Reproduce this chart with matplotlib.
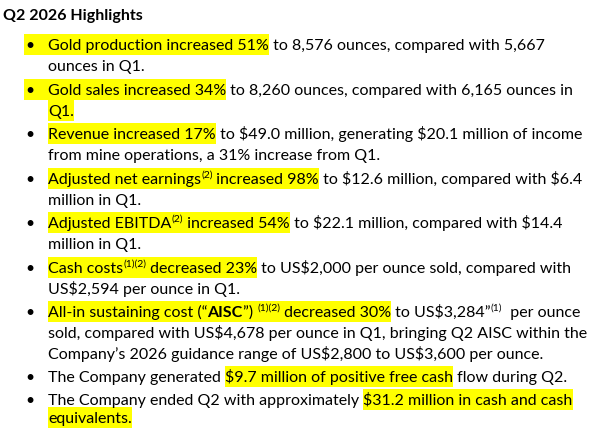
import matplotlib
matplotlib.use("Agg")
import matplotlib.pyplot as plt
from matplotlib.patches import Rectangle
plt.rcParams['text.parse_math'] = False

title = "Q2 2026 Highlights"
# each line: (baseline_y, bullet, bullet_highlight, segments)  segment=(text, highlight, style)
lines = [
    (50, True, True, [("Gold production increased 51%", 1, "n"), (" to 8,576 ounces, compared with 5,667", 0, "n")]),
    (71, False, False, [("ounces in Q1.", 0, "n")]),
    (95, True, True, [("Gold sales increased 34%", 1, "n"), (" to 8,260 ounces, compared with 6,165 ounces in", 0, "n")]),
    (116, False, False, [("Q1.", 1, "n")]),
    (139, True, False, [("Revenue increased 17%", 1, "n"), (" to $49.0 million, generating $20.1 million of income", 0, "n")]),
    (160, False, False, [("from mine operations, a 31% increase from Q1.", 0, "n")]),
    (184, True, False, [("Adjusted net earnings", 1, "n"), ("(2)", 1, "s"), (" increased 98%", 1, "n"), (" to $12.6 million, compared with $6.4", 0, "n")]),
    (205, False, False, [("million in Q1.", 0, "n")]),
    (228, True, False, [("Adjusted EBITDA", 1, "n"), ("(2)", 1, "s"), (" increased 54%", 1, "n"), (" to $22.1 million, compared with $14.4", 0, "n")]),
    (249, False, False, [("million in Q1.", 0, "n")]),
    (273, True, False, [("Cash costs", 1, "n"), ("(1)(2)", 1, "s"), (" decreased 23%", 1, "n"), (" to US$2,000 per ounce sold, compared with", 0, "n")]),
    (294, False, False, [("US$2,594 per ounce in Q1.", 0, "n")]),
    (317, True, False, [("All-in sustaining cost (\u201c", 1, "n"), ("AISC", 1, "b"), ("\u201d) ", 1, "n"), ("(1)(2)", 1, "s"), (" decreased 30%", 1, "n"), (" to US$3,284\u201d", 0, "n"), ("(1)", 0, "s"), ("  per ounce", 0, "n")]),
    (338, False, False, [("sold, compared with US$4,678 per ounce in Q1, bringing Q2 AISC within the", 0, "n")]),
    (359, False, False, [("Company\u2019s 2026 guidance range of US$2,800 to US$3,600 per ounce.", 0, "n")]),
    (382, True, False, [("The Company generated ", 0, "n"), ("$9.7 million of positive free cash", 1, "n"), (" flow during Q2.", 0, "n")]),
    (405, True, False, [("The Company ended Q2 with approximately ", 0, "n"), ("$31.2 million in cash and cash", 1, "n")]),
    (423, False, False, [("equivalents.", 1, "n")]),
]

W, H = 600, 428
fig = plt.figure(figsize=(6, 4.28), dpi=100)
ax = fig.add_axes([0, 0, 1, 1])
ax.set_xlim(0, W); ax.set_ylim(H, 0); ax.axis("off")
fam = "Lato"
fig.canvas.draw()
r = fig.canvas.get_renderer()

def width(s, fs, weight="normal"):
    t = ax.text(0, 0, s, fontsize=fs, family=fam, weight=weight)
    w = t.get_window_extent(r).width
    t.remove()
    return w

fs0 = 11
full = "".join(s for s, _, _ in lines[0][3])
fs = fs0 * 497 / width(full, fs0)

ax.text(3, 20, title, fontsize=fs, family=fam, weight="bold", va="baseline")
X0, XB = 48, 30
for yb, bullet, bhl, segs in lines:
    top, h = yb - 16, 21
    if bullet:
        if bhl:
            ax.add_patch(Rectangle((XB - 6, top), 24, h, color="#FFFF00", zorder=0, lw=0))
        ax.text(XB, yb, "\u2022", fontsize=fs, family=fam, va="baseline", ha="center")
    x = X0
    for s, hl, st in segs:
        f = fs * 0.65 if st == "s" else fs
        wt = "bold" if st == "b" else "normal"
        w = width(s, f, wt)
        if hl:
            ax.add_patch(Rectangle((x, top), w, h, color="#FFFF00", zorder=0, lw=0))
        ax.text(x, yb - (6 if st == "s" else 0), s, fontsize=f, family=fam, weight=wt, va="baseline", zorder=2)
        x += w
fig.savefig("out.png", dpi=100)
